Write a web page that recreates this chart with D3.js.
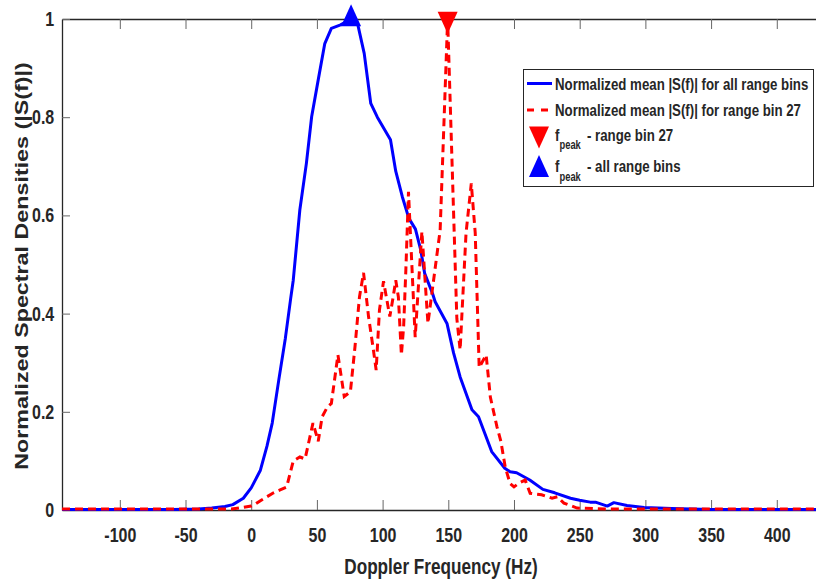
<!DOCTYPE html>
<html>
<head>
<meta charset="utf-8">
<script src="https://cdn.jsdelivr.net/npm/d3@7"></script>
<style>
body { margin: 0; background: #fff; }
text { font-family: "Liberation Sans", Arial, Helvetica, sans-serif; font-weight: bold; fill: #262626; }
</style>
</head>
<body>
<svg id="chart" width="816" height="584"></svg>
<script>
// mean spectrum over all range bins
var freqAll = [-144, -60, -40, -30, -20, -14, -6, 0, 7, 12, 16, 21, 26, 30, 32, 37, 42, 46, 51, 56, 61, 68, 76, 81, 86, 91, 96, 106, 110, 115, 120, 125, 129, 132, 138, 140, 149, 154, 159, 168, 173, 183, 193, 197, 202, 212, 222, 231, 243, 250, 258, 262, 271, 276, 286, 299, 320, 350, 430];
var specAll = [0.001, 0.001, 0.002, 0.004, 0.007, 0.011, 0.024, 0.045, 0.081, 0.13, 0.177, 0.265, 0.35, 0.43, 0.468, 0.611, 0.706, 0.801, 0.876, 0.95, 0.981, 0.988, 1.0, 0.99, 0.93, 0.828, 0.80, 0.754, 0.69, 0.638, 0.594, 0.572, 0.53, 0.482, 0.441, 0.424, 0.38, 0.32, 0.271, 0.204, 0.19, 0.119, 0.085, 0.078, 0.076, 0.061, 0.042, 0.035, 0.024, 0.02, 0.016, 0.016, 0.008, 0.015, 0.009, 0.005, 0.003, 0.001, 0.001];

// mean spectrum for range bin 27
var freqBin = [-144, -15, -7, 0, 3, 7, 12, 17, 22, 27, 32, 37, 41, 47, 51, 54, 58, 61, 66, 70.8, 75.5, 79, 82.4, 85.5, 89.3, 93, 95.1, 97.6, 100.7, 103.7, 105.5, 108.3, 110, 112, 114.3, 116, 117.7, 119.7, 124.8, 129.9, 134.5, 143.8, 149.5, 156.5, 159, 163.5, 167.5, 170.5, 173.5, 178.8, 182, 187, 190, 193.3, 197, 200, 204, 208.5, 212.3, 221, 229, 233, 238, 248, 270, 430];
var specBin = [0.002, 0.002, 0.005, 0.008, 0.012, 0.019, 0.027, 0.035, 0.041, 0.047, 0.10, 0.108, 0.104, 0.177, 0.14, 0.19, 0.21, 0.217, 0.316, 0.231, 0.241, 0.333, 0.434, 0.483, 0.394, 0.326, 0.285, 0.407, 0.466, 0.421, 0.394, 0.438, 0.468, 0.434, 0.316, 0.373, 0.489, 0.648, 0.352, 0.567, 0.38, 0.57, 1.0, 0.39, 0.326, 0.564, 0.665, 0.564, 0.29, 0.316, 0.23, 0.17, 0.14, 0.088, 0.054, 0.047, 0.055, 0.061, 0.034, 0.031, 0.024, 0.027, 0.014, 0.004, 0.002, 0.002];

var peakAll = [76, 1.0];
var peakBin = [149.5, 1.0];

var xTicks = [-100, -50, 0, 50, 100, 150, 200, 250, 300, 350, 400];
var yTicks = [0, 0.2, 0.4, 0.6, 0.8, 1];

var legendLabels = [
	"Normalized mean |S(f)| for all range bins",
	"Normalized mean |S(f)| for range bin 27",
	"- range bin 27",
	"- all range bins"
];

var svg = d3.select("#chart");
var SX = 0.78;  // text in the reference is horizontally squeezed
var axisColor = "#262626";

var x = d3.scaleLinear().domain([-144, 430]).range([62, 816.2]);
var y = d3.scaleLinear().domain([0, 1]).range([510, 19]);

// axes
var gx = svg.append("g")
	.attr("transform", "translate(0,510)")
	.call(d3.axisBottom(x).tickValues(xTicks).tickSizeInner(-10).tickSizeOuter(0)
		.tickPadding(17).tickFormat(function(d) { return String(d); }));

var gt = svg.append("g")
	.attr("transform", "translate(0,19)")
	.call(d3.axisTop(x).tickValues(xTicks).tickSizeInner(-10).tickSizeOuter(0).tickFormat(""));

var gy = svg.append("g")
	.attr("transform", "translate(62,0)")
	.call(d3.axisLeft(y).tickValues(yTicks).tickSizeInner(-8).tickSizeOuter(0)
		.tickPadding(10).tickFormat(function(d) { return String(d); }));

[gx, gt, gy].forEach(function(g) {
	g.attr("font-family", null).attr("font-size", null).attr("color", axisColor);
	g.select(".domain").attr("stroke-width", 1.3);
	g.selectAll(".tick line").attr("stroke", "#666").attr("stroke-width", 1);
	g.selectAll("text")
		.style("font-size", "20.5px")
		.attr("transform", "scale(" + SX + ",1)");
});

// axis titles
svg.append("text")
	.attr("transform", "translate(441,574) scale(" + SX + ",1)")
	.attr("text-anchor", "middle")
	.style("font-size", "22px")
	.text("Doppler Frequency (Hz)");

svg.append("text")
	.attr("transform", "translate(28,266) scale(" + SX + ",1) rotate(-90)")
	.attr("text-anchor", "middle")
	.style("font-size", "23.3px")
	.text("Normalized Spectral Densities (|S(f)|)");

// curves
var line = d3.line()
	.x(function(d) { return x(d[0]); })
	.y(function(d) { return y(d[1]); });

svg.append("path")
	.datum(d3.zip(freqAll, specAll))
	.attr("d", line)
	.attr("fill", "none")
	.attr("stroke", "#0000ff")
	.attr("stroke-width", 3)
	.attr("stroke-linejoin", "round");

svg.append("path")
	.datum(d3.zip(freqBin, specBin))
	.attr("d", line)
	.attr("fill", "none")
	.attr("stroke", "#ff0000")
	.attr("stroke-width", 3)
	.attr("stroke-dasharray", "8,5");

// triangle markers, centroid on the point
function tri(up) {
	var h = 22, w = 10, s = up ? 1 : -1;
	return "M0," + (-s * h * 2 / 3) + "L" + w + "," + (s * h / 3) + "L" + (-w) + "," + (s * h / 3) + "Z";
}

svg.append("path")
	.attr("d", tri(false))
	.attr("transform", "translate(" + x(peakBin[0]) + "," + y(peakBin[1]) + ")")
	.attr("fill", "#ff0000");

svg.append("path")
	.attr("d", tri(true))
	.attr("transform", "translate(" + x(peakAll[0]) + "," + y(peakAll[1]) + ")")
	.attr("fill", "#0000ff");

// legend
var lg = svg.append("g");
lg.append("rect")
	.attr("x", 523.5).attr("y", 69.5)
	.attr("width", 290).attr("height", 117)
	.attr("fill", "#fff")
	.attr("stroke", axisColor)
	.attr("stroke-width", 1);

lg.append("line")
	.attr("x1", 527).attr("x2", 552).attr("y1", 83.5).attr("y2", 83.5)
	.attr("stroke", "#0000ff").attr("stroke-width", 3);
lg.append("line")
	.attr("x1", 527).attr("x2", 552).attr("y1", 110).attr("y2", 110)
	.attr("stroke", "#ff0000").attr("stroke-width", 3).attr("stroke-dasharray", "7,7");

lg.append("path").attr("d", tri(false)).attr("transform", "translate(539,133.8)").attr("fill", "#ff0000");
lg.append("path").attr("d", tri(true)).attr("transform", "translate(539,169.7)").attr("fill", "#0000ff");

function legendText(str, px, py, size) {
	lg.append("text")
		.attr("transform", "translate(" + px + "," + py + ") scale(" + SX + ",1)")
		.style("font-size", size + "px")
		.text(str);
}

legendText(legendLabels[0], 555, 90, 17);
legendText(legendLabels[1], 555, 116, 17);
legendText("f", 555, 140.5, 17);
legendText("peak", 559.5, 148.5, 12);
legendText(legendLabels[2], 587, 140.5, 17);
legendText("f", 555, 171.7, 17);
legendText("peak", 559.5, 180.5, 12);
legendText(legendLabels[3], 587, 171.7, 17);
</script>
</body>
</html>
